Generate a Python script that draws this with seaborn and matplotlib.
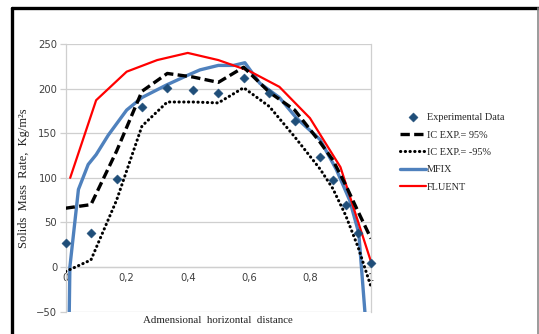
import matplotlib
matplotlib.use("Agg")
import matplotlib.pyplot as plt
import seaborn as sns
import pandas as pd
from matplotlib.lines import Line2D

# ---- data ----
exp_x = [0, 0.083, 0.167, 0.25, 0.333, 0.417, 0.5, 0.583, 0.667, 0.75, 0.833, 0.875, 0.917, 0.958, 1.0]
exp_y = [27, 38, 99, 179, 201, 198, 195, 212, 195, 164, 123, 98, 70, 38, 5]
ic_pos_y = [66, 70, 130, 197, 217, 213, 207, 224, 196, 176, 140, 120, 92, 62, 32]
ic_neg_y = [-5, 8, 75, 158, 185, 185, 184, 201, 180, 146, 110, 88, 58, 22, -22]

mfix_x = [0.012, 0.014, 0.042, 0.074, 0.10, 0.14, 0.20, 0.25, 0.33, 0.40, 0.44, 0.50, 0.55, 0.587,
          0.636, 0.70, 0.756, 0.833, 0.887, 0.93, 0.96, 0.98]
mfix_y = [-50, 0, 87, 115, 126, 148, 176, 190, 204, 215, 221, 226, 226, 229,
          206, 190, 167, 143, 109, 75, 38, -50]

fluent_x = [0.015, 0.1, 0.2, 0.3, 0.4, 0.5, 0.6, 0.7, 0.8, 0.9, 1.0]
fluent_y = [100, 187, 219, 232, 240, 232, 220, 202, 167, 112, 6]

x_ticks = [0, 0.2, 0.4, 0.6, 0.8, 1.0]
x_tick_labels = ["0", "0,2", "0,4", "0,6", "0,8", "1"]
y_ticks = [-50, 0, 50, 100, 150, 200, 250]

df_exp = pd.DataFrame({"x": exp_x, "exp": exp_y, "pos": ic_pos_y, "neg": ic_neg_y})
df_mfix = pd.DataFrame({"x": mfix_x, "y": mfix_y})
df_fluent = pd.DataFrame({"x": fluent_x, "y": fluent_y})

sns.set_style("white")
W, H = 539, 334
fig = plt.figure(figsize=(W / 100, H / 100), dpi=100)
ax = fig.add_axes([65.6 / W, (H - 311.7) / H, (371 - 65.6) / W, (311.7 - 44) / H])

grid_c = "#cfcfcf"
for yv in y_ticks:
    ax.axhline(yv, color=grid_c, lw=0.9, zorder=0)

sns.lineplot(data=df_mfix, x="x", y="y", ax=ax, color="#4F81BD", lw=2.4,
             sort=False, label="MFIX", zorder=3)
sns.lineplot(data=df_fluent, x="x", y="y", ax=ax, color="#FF0000", lw=1.6,
             sort=False, label="FLUENT", zorder=4)
sns.lineplot(data=df_exp, x="x", y="pos", ax=ax, color="black", lw=2.4,
             sort=False, label="IC EXP.= 95%", zorder=5, dashes=False)
sns.lineplot(data=df_exp, x="x", y="neg", ax=ax, color="black", lw=2.2,
             sort=False, label="IC EXP.= -95%", zorder=5, dashes=False)
lines = ax.get_lines()
lines[-2].set_dashes([2.8, 1.3])
lines[-1].set_linestyle((0, (0.1, 1.45)))
lines[-1].set_dash_capstyle("round")
sns.scatterplot(data=df_exp, x="x", y="exp", ax=ax, marker="D", s=22, color="#1F4E79",
                edgecolor="#1F4E79", linewidth=0.3, label="Experimental Data", zorder=6, clip_on=False)

ax.set_xlim(0, 1)
ax.set_ylim(-50, 250)
ax.set_xticks(x_ticks)
ax.set_xticklabels(x_tick_labels)
ax.set_yticks(y_ticks)
ax.spines["bottom"].set_position(("data", 0))
for s in ["left", "right", "bottom"]:
    ax.spines[s].set_color(grid_c)
    ax.spines[s].set_linewidth(0.9)
ax.spines["top"].set_visible(False)
ax.tick_params(axis="x", length=0, pad=4, labelsize=7.2, labelcolor="#404040")
ax.tick_params(axis="y", length=4, width=0.9, color=grid_c, pad=2, labelsize=7.2, labelcolor="#404040", left=True)

serif = ["Liberation Serif", "DejaVu Serif"]
ax.set_xlabel("Admensional  horizontal  distance", fontsize=7.8, family=serif, color="#222222", va="top")
ax.xaxis.set_label_coords(0.5, -0.015)
ax.set_ylabel("Solids  Mass  Rate,  Kg/m\u00b2s", fontsize=9, family=serif, color="#222222")
ax.yaxis.set_label_coords(-0.117, 0.5)

handles, labels = ax.get_legend_handles_labels()
order = ["Experimental Data", "IC EXP.= 95%", "IC EXP.= -95%", "MFIX", "FLUENT"]
hmap = dict(zip(labels, handles))
leg = fig.legend([hmap[k] for k in order], order, loc="upper left",
                 bbox_to_anchor=(400 / W, (H - 113) / H), frameon=False,
                 prop={"family": serif, "size": 7.4}, handlelength=2.5, handletextpad=0.1,
                 labelspacing=0.8, borderpad=0, borderaxespad=0)
if ax.legend_:
    ax.legend_.remove()

# outer frame
fig.add_artist(Line2D([12 / W, 1], [(H - 8) / H] * 2, color="black", lw=2.4, transform=fig.transFigure))
fig.add_artist(Line2D([12 / W] * 2, [0, (H - 8) / H], color="black", lw=2.4, transform=fig.transFigure))
fig.add_artist(Line2D([537.7 / W] * 2, [0, (H - 8) / H], color="#8a8a8a", lw=1.2, transform=fig.transFigure))

fig.savefig("out.png", dpi=100)
